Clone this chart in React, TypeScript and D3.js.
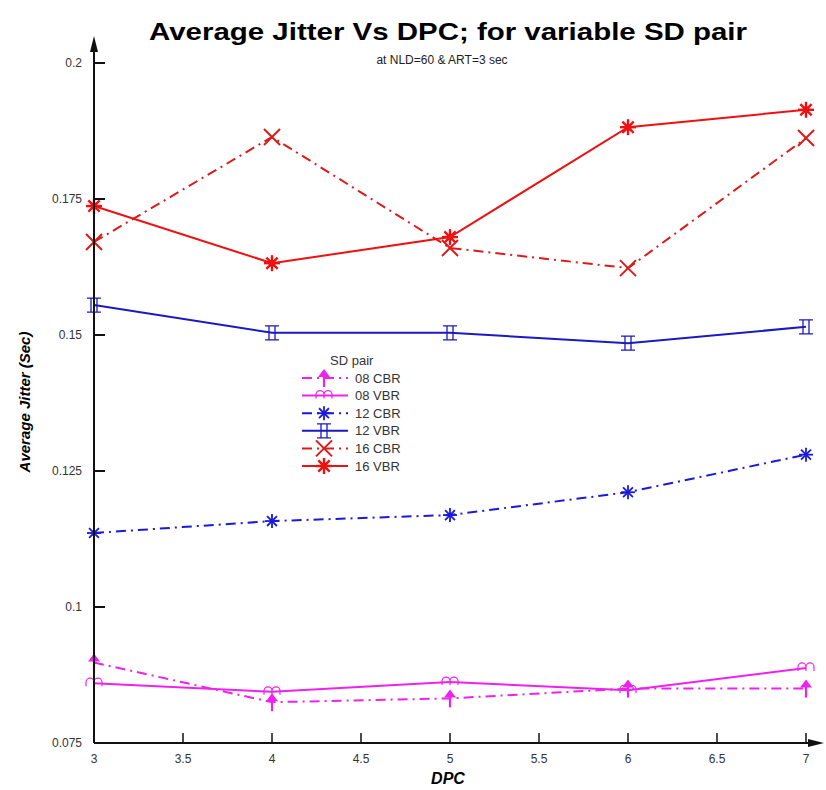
import React from "react";
import * as d3 from "d3";

const dpc = [3, 4, 5, 6, 7];
const cbr08 = [0.0898, 0.0825, 0.0832, 0.085, 0.085];
const vbr08 = [0.086, 0.0844, 0.0862, 0.0847, 0.0888];
const cbr12 = [0.1136, 0.1158, 0.1169, 0.1211, 0.128];
const vbr12 = [0.1555, 0.1504, 0.1504, 0.1485, 0.1515];
const cbr16 = [0.1671, 0.1864, 0.166, 0.1623, 0.1862];
const vbr16 = [0.1737, 0.1632, 0.168, 0.1882, 0.1914];

const xTicks = [3, 3.5, 4, 4.5, 5, 5.5, 6, 6.5, 7];
const yTicks = [0.075, 0.1, 0.125, 0.15, 0.175, 0.2];

const series = [
  { name: "08 CBR", values: cbr08, color: "#ee22ee", dash: "10,5,2,5", marker: "arrow" },
  { name: "08 VBR", values: vbr08, color: "#ee22ee", dash: "", marker: "arches" },
  { name: "12 CBR", values: cbr12, color: "#1a1ad8", dash: "10,5,2,5", marker: "star" },
  { name: "12 VBR", values: vbr12, color: "#1a1ac0", dash: "", marker: "ibeam" },
  { name: "16 CBR", values: cbr16, color: "#dd1a1a", dash: "10,5,2,5", marker: "cross" },
  { name: "16 VBR", values: vbr16, color: "#ee1111", dash: "", marker: "boldstar" },
];

const width = 826;
const height = 790;

const x = d3.scaleLinear().domain([3, 7]).range([94, 806]);
const y = d3.scaleLinear().domain([0.075, 0.2]).range([743, 63]);

const Marker = ({ kind, cx, cy, color }: { kind: string; cx: number; cy: number; color: string }) => {
  if (kind === "arrow") {
    return (
      <g>
        <path d={`M${cx},${cy - 9} L${cx - 6},${cy - 1} L${cx + 6},${cy - 1} Z`} fill={color} />
        <line x1={cx} x2={cx} y1={cy - 4} y2={cy + 9} stroke={color} strokeWidth={2.2} />
      </g>
    );
  }
  if (kind === "arches") {
    const p = `M${cx - 8},${cy + 3} L${cx - 8},${cy - 1} A4,4 0 0 1 ${cx},${cy - 1} L${cx},${cy + 3} M${cx},${cy - 1} A4,4 0 0 1 ${cx + 8},${cy - 1} L${cx + 8},${cy + 3}`;
    return <path d={p} fill="none" stroke={color} strokeWidth={1.2} />;
  }
  if (kind === "star" || kind === "boldstar") {
    const r = kind === "star" ? 7 : 8;
    const angles = [0, 45, 90, 135];
    return (
      <g>
        {angles.map((a) => {
          const rad = (a * Math.PI) / 180;
          return (
            <line
              key={a}
              x1={cx - r * Math.cos(rad)}
              y1={cy - r * Math.sin(rad)}
              x2={cx + r * Math.cos(rad)}
              y2={cy + r * Math.sin(rad)}
              stroke={color}
              strokeWidth={kind === "star" ? 1.8 : 2.4}
            />
          );
        })}
        {kind === "boldstar" && <circle cx={cx} cy={cy} r={3.5} fill={color} />}
      </g>
    );
  }
  if (kind === "ibeam") {
    const p = `M${cx - 7},${cy - 7} H${cx + 7} M${cx - 7},${cy + 7} H${cx + 7} M${cx - 3},${cy - 7} V${cy + 7} M${cx + 3},${cy - 7} V${cy + 7}`;
    return <path d={p} fill="none" stroke={color} strokeWidth={1.3} />;
  }
  // cross
  const s = 8;
  return (
    <path
      d={`M${cx - s},${cy - s} L${cx + s},${cy + s} M${cx - s},${cy + s} L${cx + s},${cy - s}`}
      stroke={color}
      strokeWidth={2}
    />
  );
};

const App = () => {
  const line = d3
    .line<number>()
    .x((_, i) => x(dpc[i]))
    .y((d) => y(d));

  const axisY = y(0.075);
  const axisX = x(3);

  return (
    <svg
      width={width}
      height={height}
      viewBox={`0 0 ${width} ${height}`}
      style={{ position: "absolute", left: 0, top: 0, background: "#fff" }}
      fontFamily="Liberation Sans, Arial, sans-serif"
    >
      {/* title */}
      <text x={448} y={40} textAnchor="middle" fontSize={24} fontWeight={700} textLength={598} lengthAdjust="spacingAndGlyphs">
        Average Jitter Vs DPC; for variable SD pair
      </text>
      <text x={442} y={64} textAnchor="middle" fontSize={12} fill="#222">
        at NLD=60 &amp; ART=3 sec
      </text>

      {/* series lines */}
      {series.map((s) => (
        <path
          key={s.name}
          d={line(s.values) || ""}
          fill="none"
          stroke={s.color}
          strokeWidth={2}
          strokeDasharray={s.dash || undefined}
        />
      ))}
      {series.map((s) =>
        s.values.map((v, i) => (
          <Marker key={s.name + i} kind={s.marker} cx={x(dpc[i])} cy={y(v)} color={s.color} />
        ))
      )}

      {/* axes */}
      <line x1={axisX} x2={axisX} y1={axisY} y2={44} stroke="#111" strokeWidth={2} />
      <path d={`M${axisX},36 L${axisX - 4},52 L${axisX + 4},52 Z`} fill="#111" />
      <line x1={axisX} x2={814} y1={axisY} y2={axisY} stroke="#111" strokeWidth={2} />
      <path d={`M824,${axisY} L808,${axisY - 4} L808,${axisY + 4} Z`} fill="#111" />

      {yTicks.map((t) => (
        <g key={t}>
          {t > 0.075 && <line x1={axisX} x2={axisX + 11} y1={y(t)} y2={y(t)} stroke="#111" strokeWidth={2} />}
          <text x={axisX - 12} y={y(t)} dy="0.35em" textAnchor="end" fontSize={12} fill="#333">
            {t}
          </text>
        </g>
      ))}
      {xTicks.map((t) => (
        <g key={t}>
          {t > 3 && <line x1={x(t)} x2={x(t)} y1={axisY} y2={axisY - 10} stroke="#111" strokeWidth={1.5} />}
          <text x={x(t)} y={axisY + 20} textAnchor="middle" fontSize={12} fill="#333">
            {t}
          </text>
        </g>
      ))}

      <text x={448} y={784} textAnchor="middle" fontSize={16} fontWeight={700} fontStyle="italic">
        DPC
      </text>
      <text
        transform={`translate(30,402) rotate(-90)`}
        textAnchor="middle"
        fontSize={15}
        fontWeight={700}
        fontStyle="italic"
      >
        Average Jitter (Sec)
      </text>

      {/* legend */}
      <g>
        <text x={330} y={365} fontSize={13} fill="#333">
          SD pair
        </text>
        {series.map((s, i) => {
          const ly = 378 + i * 17.6;
          return (
            <g key={s.name}>
              <line x1={302} x2={348} y1={ly} y2={ly} stroke={s.color} strokeWidth={2} strokeDasharray={s.dash || undefined} />
              <Marker kind={s.marker} cx={324} cy={ly} color={s.color} />
              <text x={355} y={ly} dy="0.35em" fontSize={13} fill="#333">
                {s.name}
              </text>
            </g>
          );
        })}
      </g>
    </svg>
  );
};

export default App;
